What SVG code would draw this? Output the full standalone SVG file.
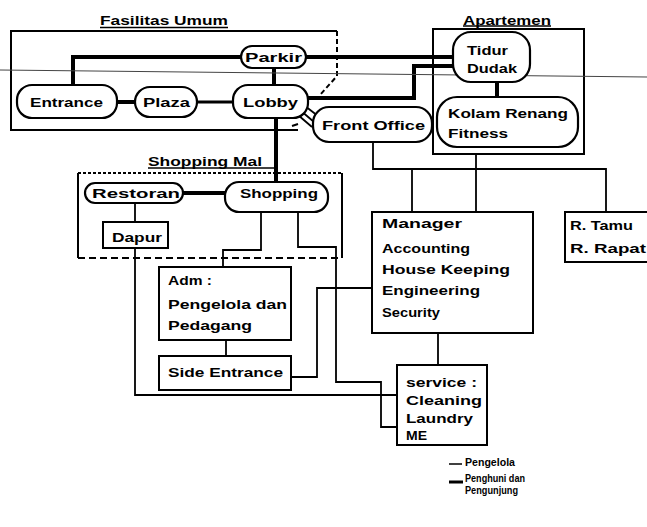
<svg xmlns="http://www.w3.org/2000/svg" width="647" height="527" viewBox="0 0 647 527">
<style>
text{font-family:"Liberation Sans",Arial,sans-serif;font-weight:bold;font-size:13px;fill:#000}
.lg{font-size:11px}
.pill{fill:#fff;stroke:#000;stroke-width:2.2}
.box{fill:#fff;stroke:#000;stroke-width:2}
.frame{fill:none;stroke:#000;stroke-width:2}
.thick{fill:none;stroke:#000;stroke-width:4}
.med{fill:none;stroke:#000;stroke-width:3}
.thin{fill:none;stroke:#000;stroke-width:1.8}
.ul{stroke:#000;stroke-width:1.5}
</style>
<rect width="647" height="527" fill="#fff"/>
<g id="frames">
<path class="frame" d="M337,31 H11 V130 H298"/>
<path class="frame" d="M337,31 V76 L320,95" stroke-dasharray="5,3"/>
<path class="frame" d="M292,126 L298,124" />
<rect class="frame" x="433" y="29" width="151" height="125"/>
<path class="frame" d="M78,258 V173 M342,173 V258"/>
<path class="frame" d="M78,173 H342" stroke-dasharray="3,2" stroke-width="1.8"/>
<path class="frame" d="M78,258 H342" stroke-dasharray="7,4"/>
<text x="100" y="25" textLength="128" lengthAdjust="spacingAndGlyphs">Fasilitas Umum</text>
<line class="ul" x1="100" y1="27.5" x2="228" y2="27.5"/>
<text x="463" y="24.5" textLength="88" lengthAdjust="spacingAndGlyphs">Apartemen</text>
<line class="ul" x1="463" y1="26" x2="551" y2="26"/>
<text x="148" y="166" textLength="114" lengthAdjust="spacingAndGlyphs">Shopping Mal</text>
<line class="ul" x1="148" y1="168" x2="274" y2="168"/>
</g>
<g id="connectors">
<path class="thick" d="M73,85 V57 H241"/>
<path class="thick" d="M117,102 H135"/>
<path class="med" d="M197,102 H233"/>
<path class="thick" d="M274,68 V85"/>
<path class="thick" d="M306,57 H453" stroke-width="5"/>
<path class="thick" d="M308,98 H414 V66 H453"/>
<path class="thin" d="M300,110 L314,122 M305,106 L318,116 M298,115 L312,127"/>
<path class="thick" d="M497,82 V97"/>
<path class="thick" d="M276,118 V182"/>
<path class="thick" d="M183,193 H225"/>
<path class="thin" d="M135,203 V222"/>
<path class="thin" d="M135,248 V395 H397"/>
<path class="thin" d="M261,212 V250 H223 V267"/>
<path class="thin" d="M298,212 V247 H336 V382 H381 V427 H397"/>
<path class="thin" d="M226,340 V356"/>
<path class="thin" d="M291,377 H317 V288 H372"/>
<path class="thin" d="M373,142 V169 H606 V212"/>
<path class="thin" d="M476,154 V212"/>
<path class="thin" d="M412,169 V212"/>
<path class="thin" d="M438,333 V365"/>
<line x1="0" y1="70" x2="647" y2="77" stroke="#444" stroke-width="1"/>
</g>
<g id="parkir"><rect class="pill" x="241" y="46" width="65" height="22" rx="11"/><text x="245" y="61.5" textLength="57" lengthAdjust="spacingAndGlyphs">Parkir</text></g>
<g id="entrance"><rect class="pill" x="17" y="85" width="100" height="33" rx="15"/><text x="30" y="106.5" textLength="73" lengthAdjust="spacingAndGlyphs">Entrance</text></g>
<g id="plaza"><rect class="pill" x="135" y="87" width="62" height="30" rx="15"/><text x="143" y="106.5" textLength="47" lengthAdjust="spacingAndGlyphs">Plaza</text></g>
<g id="lobby"><rect class="pill" x="233" y="85" width="75" height="33" rx="15"/><text x="243" y="106.5" textLength="55" lengthAdjust="spacingAndGlyphs">Lobby</text></g>
<g id="front-office"><rect class="pill" x="313" y="107" width="119" height="35" rx="16"/><text x="322" y="129.5" textLength="103" lengthAdjust="spacingAndGlyphs">Front Office</text></g>
<g id="tidur-dudak"><rect class="pill" x="453" y="32" width="77" height="50" rx="18"/><text x="467" y="54.5" textLength="41" lengthAdjust="spacingAndGlyphs">Tidur</text><text x="467" y="72.5" textLength="50" lengthAdjust="spacingAndGlyphs">Dudak</text></g>
<g id="kolam-renang"><rect class="pill" x="437" y="97" width="141" height="50" rx="20"/><text x="448" y="117.5" textLength="120" lengthAdjust="spacingAndGlyphs">Kolam Renang</text><text x="448" y="137.5" textLength="60" lengthAdjust="spacingAndGlyphs">Fitness</text></g>
<g id="restoran"><rect class="pill" x="85" y="183" width="98" height="20" rx="10"/><text x="92" y="197.5" textLength="88" lengthAdjust="spacingAndGlyphs">Restoran</text></g>
<g id="shopping"><rect class="pill" x="225" y="182" width="103" height="30" rx="14"/><text x="240" y="197.5" textLength="78" lengthAdjust="spacingAndGlyphs">Shopping</text></g>
<g id="dapur"><rect class="box" x="103" y="222" width="65" height="26"/><text x="112" y="241.5" textLength="50" lengthAdjust="spacingAndGlyphs">Dapur</text></g>
<g id="adm"><rect class="box" x="159" y="267" width="132" height="73"/><text x="168" y="284.5" textLength="44" lengthAdjust="spacingAndGlyphs">Adm :</text><text x="168" y="308.5" textLength="119" lengthAdjust="spacingAndGlyphs">Pengelola dan</text><text x="168" y="329.5" textLength="84" lengthAdjust="spacingAndGlyphs">Pedagang</text></g>
<g id="side-entrance"><rect class="box" x="159" y="356" width="132" height="34"/><text x="168" y="377" textLength="115" lengthAdjust="spacingAndGlyphs">Side Entrance</text></g>
<g id="manager"><rect class="box" x="372" y="212" width="161" height="121"/><text x="382" y="227.5" textLength="80" lengthAdjust="spacingAndGlyphs">Manager</text><text x="382" y="253" textLength="88" lengthAdjust="spacingAndGlyphs">Accounting</text><text x="382" y="274" textLength="128" lengthAdjust="spacingAndGlyphs">House Keeping</text><text x="382" y="294.5" textLength="98" lengthAdjust="spacingAndGlyphs">Engineering</text><text x="382" y="317" textLength="58" lengthAdjust="spacingAndGlyphs">Security</text></g>
<g id="r-tamu"><rect class="box" x="565" y="212" width="90" height="50"/><text x="570" y="229.5" textLength="63" lengthAdjust="spacingAndGlyphs">R. Tamu</text><text x="570" y="252.5" textLength="76" lengthAdjust="spacingAndGlyphs">R. Rapat</text></g>
<g id="service"><rect class="box" x="397" y="365" width="90" height="80"/><text x="406" y="386.5" textLength="71" lengthAdjust="spacingAndGlyphs">service :</text><text x="406" y="404.5" textLength="76" lengthAdjust="spacingAndGlyphs">Cleaning</text><text x="406" y="422.5" textLength="67" lengthAdjust="spacingAndGlyphs">Laundry</text><text x="406" y="439.5" textLength="21" lengthAdjust="spacingAndGlyphs">ME</text></g>
<g id="legend">
<line x1="449" y1="464" x2="462" y2="464" stroke="#000" stroke-width="1.5"/>
<text class="lg" x="465" y="466" textLength="50" lengthAdjust="spacingAndGlyphs">Pengelola</text>
<line x1="449" y1="482" x2="463" y2="482" stroke="#000" stroke-width="3"/>
<text class="lg" x="465" y="482" textLength="60" lengthAdjust="spacingAndGlyphs">Penghuni dan</text>
<text class="lg" x="465" y="494" textLength="53" lengthAdjust="spacingAndGlyphs">Pengunjung</text>
</g>
</svg>
